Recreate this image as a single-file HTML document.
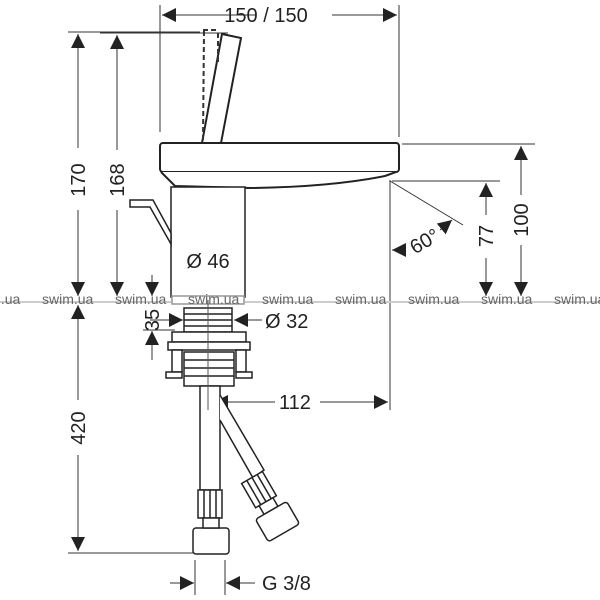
<!DOCTYPE html>
<html><head><meta charset="utf-8"><style>html,body{margin:0;padding:0;background:#fff}svg{display:block}</style></head><body>
<svg width="600" height="600" viewBox="0 0 600 600" xmlns="http://www.w3.org/2000/svg" font-family="Liberation Sans, sans-serif">
<defs>
<marker id="a" viewBox="0 0 10 10" refX="10" refY="5" markerWidth="14" markerHeight="14" markerUnits="userSpaceOnUse" orient="auto-start-reverse"><path d="M0,0L10,5L0,10z" fill="#222"/></marker>
</defs>
<g stroke="#333" stroke-width="1" fill="none">
<line x1="160" y1="5" x2="160" y2="132"/>
<line x1="399" y1="5" x2="399" y2="137"/>
<line x1="68" y1="32" x2="200" y2="32"/>
<line x1="100" y1="33" x2="228" y2="33"/>
<line x1="402" y1="144" x2="535" y2="144"/>
<line x1="392" y1="181" x2="500" y2="181"/>
<line x1="390" y1="180" x2="390" y2="410"/>
<line x1="390" y1="181" x2="463" y2="225"/>
<line x1="68" y1="553" x2="195" y2="553"/>
<line x1="143" y1="330" x2="175" y2="330"/>
<line x1="195" y1="560" x2="195" y2="595"/>
<line x1="225" y1="560" x2="225" y2="595"/>
<line x1="162" y1="15" x2="255" y2="15" marker-start="url(#a)"/>
<line x1="332" y1="15" x2="397" y2="15" marker-end="url(#a)"/>
<line x1="78" y1="34" x2="78" y2="148" marker-start="url(#a)"/>
<line x1="78" y1="210" x2="78" y2="296" marker-end="url(#a)"/>
<line x1="117" y1="35" x2="117" y2="150" marker-start="url(#a)"/>
<line x1="117" y1="210" x2="117" y2="296" marker-end="url(#a)"/>
<line x1="152" y1="275" x2="152" y2="296" marker-end="url(#a)"/>
<line x1="78" y1="305" x2="78" y2="400" marker-start="url(#a)"/>
<line x1="78" y1="455" x2="78" y2="551" marker-end="url(#a)"/>
<line x1="152" y1="360" x2="152" y2="331" marker-end="url(#a)"/>
<line x1="521" y1="146" x2="521" y2="195" marker-start="url(#a)"/>
<line x1="521" y1="245" x2="521" y2="296" marker-end="url(#a)"/>
<line x1="486" y1="183" x2="486" y2="215" marker-start="url(#a)"/>
<line x1="486" y1="258" x2="486" y2="296" marker-end="url(#a)"/>
<line x1="173" y1="280" x2="243" y2="280" marker-start="url(#a)" marker-end="url(#a)"/>
<line x1="150" y1="320" x2="183" y2="320" marker-end="url(#a)"/>
<line x1="262" y1="320" x2="234" y2="320" marker-end="url(#a)"/>
<line x1="275" y1="402" x2="214" y2="402" marker-end="url(#a)"/>
<line x1="320" y1="402" x2="388" y2="402" marker-end="url(#a)"/>
<line x1="170" y1="583" x2="194" y2="583" marker-end="url(#a)"/>
<line x1="255" y1="583" x2="226" y2="583" marker-end="url(#a)"/>
<line x1="405" y1="250" x2="392" y2="250" marker-end="url(#a)"/>
<line x1="440" y1="230" x2="452" y2="220" marker-end="url(#a)"/>
</g>
<line x1="0" y1="302" x2="600" y2="302" stroke="#ccc" stroke-width="2"/>
<g stroke="#222" stroke-width="2" fill="#fff">
<path d="M202,143 L222,34 L241,38 L221,143"/>
<rect x="160" y="143" width="239" height="29" rx="3"/>
<path d="M161,172 L175,186 L250,188 Q330,187 385,176 L396,172" />
<rect x="171" y="187" width="74" height="110" stroke-width="1.5"/>
<path d="M130,200 L153,200 L171,233 L171,244 L150,207 L130,207 Z" stroke-width="1.5"/>
<rect x="172" y="296" width="72" height="8" stroke="#999" stroke-width="1.5"/>
</g>
<g stroke="#333" stroke-width="2" stroke-dasharray="5,3" fill="none">
<line x1="203" y1="140" x2="204" y2="30"/><line x1="218" y1="62" x2="218" y2="30"/><line x1="203" y1="30" x2="218" y2="30"/>
</g>
<g stroke="#222" stroke-width="1.5" fill="#fff">
<rect x="184" y="308" width="48" height="24"/>
<line x1="184" y1="314" x2="232" y2="314"/><line x1="184" y1="320" x2="232" y2="320"/><line x1="184" y1="326" x2="232" y2="326"/>
<rect x="172" y="332" width="74" height="10"/>
<rect x="168" y="342" width="82" height="8"/>
<rect x="172" y="350" width="10" height="22"/><rect x="236" y="350" width="10" height="22"/>
<rect x="166" y="372" width="16" height="6"/><rect x="236" y="372" width="16" height="6"/>
<rect x="184" y="352" width="50" height="34"/>
<line x1="184" y1="360" x2="234" y2="360"/><line x1="184" y1="368" x2="234" y2="368"/><line x1="184" y1="376" x2="234" y2="376"/>
<rect x="200" y="386" width="20" height="104"/>
<path d="M220,395 L264,470 L253,478 L220,420"/>
<rect x="198" y="490" width="24" height="28"/>
<line x1="204" y1="490" x2="204" y2="518"/><line x1="210" y1="490" x2="210" y2="518"/><line x1="216" y1="490" x2="216" y2="518"/>
<rect x="193" y="528" width="36" height="26" rx="3"/>
<rect x="203" y="518" width="16" height="10"/>
<g transform="rotate(-30 265 500)">
<rect x="253" y="474" width="24" height="28"/>
<line x1="259" y1="474" x2="259" y2="502"/><line x1="265" y1="474" x2="265" y2="502"/><line x1="271" y1="474" x2="271" y2="502"/>
<rect x="257" y="502" width="16" height="10"/>
<rect x="247" y="512" width="36" height="26" rx="3"/>
</g>
</g>
<line x1="208" y1="300" x2="208" y2="410" stroke="#555" stroke-width="1"/>
<g fill="#222" font-size="20">
<text x="266" y="22" text-anchor="middle">150 / 150</text>
<text transform="translate(85,180) rotate(-90)" text-anchor="middle">170</text>
<text transform="translate(124,180) rotate(-90)" text-anchor="middle">168</text>
<text transform="translate(85,428) rotate(-90)" text-anchor="middle">420</text>
<text transform="translate(159,320) rotate(-90)" text-anchor="middle">35</text>
<text transform="translate(528,220) rotate(-90)" text-anchor="middle">100</text>
<text transform="translate(493,236) rotate(-90)" text-anchor="middle">77</text>
<text transform="translate(428,247) rotate(-30)" text-anchor="middle">60°</text>
<text x="208" y="268" text-anchor="middle">Ø 46</text>
<text x="265" y="328">Ø 32</text>
<text x="279" y="409">112</text>
<text x="262" y="590">G 3/8</text>
</g>
<g fill="#666" font-size="14">
<text x="-31" y="304">swim.ua</text><text x="42" y="304">swim.ua</text><text x="115" y="304">swim.ua</text><text x="188" y="304">swim.ua</text><text x="262" y="304">swim.ua</text><text x="335" y="304">swim.ua</text><text x="408" y="304">swim.ua</text><text x="481" y="304">swim.ua</text><text x="554" y="304">swim.ua</text>
</g>
</svg>
</body></html>
